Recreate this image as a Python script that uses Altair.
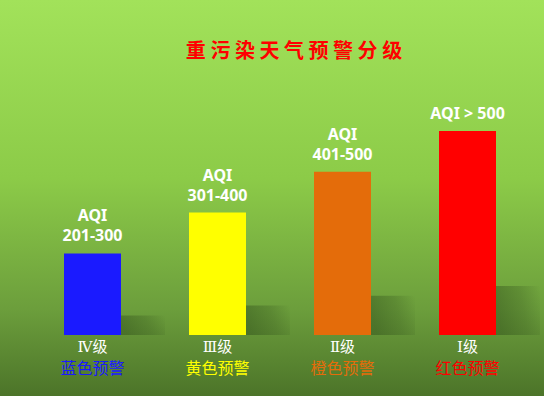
import altair as alt
import pandas as pd

levels = ["Ⅳ级", "Ⅲ级", "Ⅱ级", "Ⅰ级"]
warnings = ["蓝色预警", "黄色预警", "橙色预警", "红色预警"]
aqi_line1 = ["AQI", "AQI", "AQI", ""]
aqi_line2 = ["201-300", "301-400", "401-500", "AQI > 500"]
heights = [2, 3, 4, 5]
bar_colors = ["#1A1AFF", "#FFFF00", "#E46C0A", "#FF0000"]
shadow_ratio = [0.24, 0.24, 0.24, 0.24]
title_text = "重 污 染 天 气 预 警 分 级"

df = pd.DataFrame({
    "level": levels,
    "warning": warnings,
    "l1": aqi_line1,
    "l2": aqi_line2,
    "value": heights,
    "shadow": [h * r for h, r in zip(heights, shadow_ratio)],
})

xs = alt.X("level:N", sort=levels, axis=None,
           scale=alt.Scale(range=[30, 530], paddingInner=0.544, paddingOuter=0.272))
ys = alt.Y("value:Q", axis=None, scale=alt.Scale(domain=[0, 5], range=[335, 131]))
col = alt.Color("level:N", legend=None, scale=alt.Scale(domain=levels, range=bar_colors))

bg = alt.Chart(pd.DataFrame({"a": [0]})).mark_rect(
    color=alt.LinearGradient(
        gradient="linear", x1=0, x2=0, y1=0, y2=1,
        stops=[alt.GradientStop(color="#A2E25A", offset=0),
               alt.GradientStop(color="#8CCB48", offset=0.45),
               alt.GradientStop(color="#6C9E3C", offset=0.78),
               alt.GradientStop(color="#4C7429", offset=1)])
).encode(x=alt.value(0), x2=alt.value("width"), y=alt.value(0), y2=alt.value("height"))

shadow = alt.Chart(df).mark_bar(
    color=alt.LinearGradient(
        gradient="linear", x1=0, x2=1, y1=0.2, y2=0,
        stops=[alt.GradientStop(color="rgba(45,75,25,0.45)", offset=0),
               alt.GradientStop(color="rgba(45,75,25,0.25)", offset=0.55),
               alt.GradientStop(color="rgba(45,75,25,0)", offset=1)])
).encode(
    x=alt.X("level:N", sort=levels, axis=None,
            scale=alt.Scale(range=[80, 580], paddingInner=0.64, paddingOuter=0.32)),
    y=alt.Y("shadow:Q", axis=None, scale=alt.Scale(domain=[0, 5], range=[335, 131])),
)

bars = alt.Chart(df).mark_bar().encode(x=xs, y=ys, color=col)

txt_style = dict(baseline="middle", fontSize=16, fontWeight="bold", color="white",
                 font="Noto Sans")
top_l2 = alt.Chart(df).mark_text(dy=-17, **txt_style).encode(x=xs, y=ys, text="l2:N")
top_l1 = alt.Chart(df).mark_text(dy=-37, **txt_style).encode(x=xs, y=ys, text="l1:N")

lvl_text = alt.Chart(df).mark_text(
    baseline="middle", dy=12, fontSize=15, color="white",
    font="DejaVu Serif, Noto Sans CJK SC"
).encode(x=xs, y=alt.datum(0), text="level:N")

warn_text = alt.Chart(df).mark_text(
    baseline="middle", dy=34, fontSize=16, font="Noto Sans CJK SC"
).encode(x=xs, y=alt.datum(0), text="warning:N", color=col)

title = alt.Chart(pd.DataFrame({"t": [title_text]})).mark_text(
    fontSize=20, fontWeight="bold", color="#FF0000", font="Noto Sans CJK SC",
    baseline="middle", align="center"
).encode(x=alt.value(294), y=alt.value(52), text="t:N")

chart = alt.layer(bg, shadow, bars, top_l1, top_l2, lvl_text, warn_text, title).resolve_scale(
    x="independent"
).properties(
    width=544, height=396, padding=0, autosize=alt.AutoSizeParams(type="none")
).configure_view(stroke=None)

chart.save("out.html", embed_options={"renderer": "svg", "actions": False})
